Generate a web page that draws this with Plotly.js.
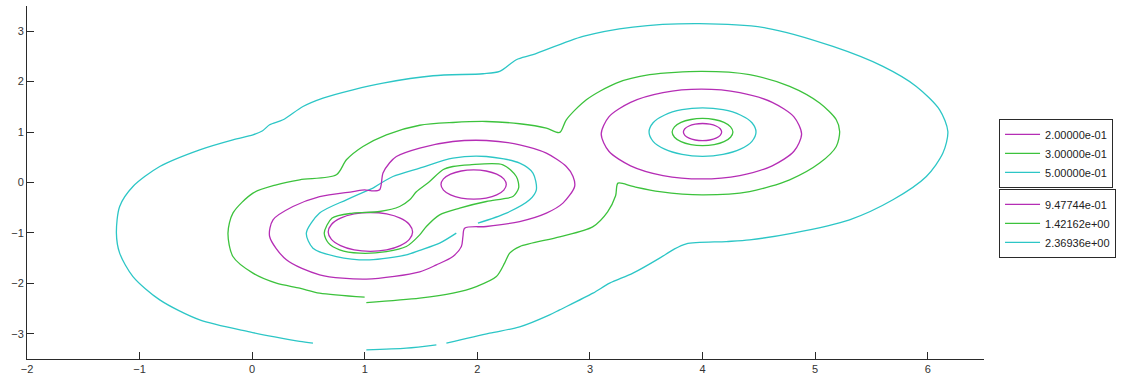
<!DOCTYPE html>
<html>
<head>
<meta charset="utf-8">
<script src="https://cdn.plot.ly/plotly-3.0.1.min.js"></script>
<style>
  html, body { margin: 0; padding: 0; background: #ffffff; }
  #chart { width: 1125px; height: 383px; }
</style>
</head>
<body>
<div id="chart"></div>
<script>
// Contour level labels (legend text)
const levelLabels = ['2.00000e-01', '3.00000e-01', '5.00000e-01', '9.47744e-01', '1.42162e+00', '2.36936e+00'];
const levelColors = ['#b52db5', '#3cc23c', '#2cc6c6', '#b52db5', '#3cc23c', '#2cc6c6'];
const xTicks = [-2, -1, 0, 1, 2, 3, 4, 5, 6];
const yTicks = [-3, -2, -1, 0, 1, 2, 3];

// ---- level 0.2 ----
const lvA02X = [1.425, 1.396, 1.315, 1.194, 1.05, 0.906, 0.785, 0.704, 0.675, 0.704, 0.785, 0.906, 1.05, 1.194, 1.315, 1.396, 1.425];
const lvA02Y = [-0.98, -0.833, -0.708, -0.624, -0.595, -0.624, -0.708, -0.833, -0.98, -1.127, -1.252, -1.336, -1.365, -1.336, -1.252, -1.127, -0.98];
const lvB02X = [2.257, 2.235, 2.172, 2.078, 1.967, 1.856, 1.762, 1.699, 1.677, 1.699, 1.762, 1.856, 1.967, 2.078, 2.172, 2.235, 2.257];
const lvB02Y = [-0.04, 0.071, 0.165, 0.228, 0.25, 0.228, 0.165, 0.071, -0.04, -0.151, -0.245, -0.308, -0.33, -0.308, -0.245, -0.151, -0.04];
const lvC02X = [4.17, 4.157, 4.12, 4.065, 4.0, 3.935, 3.88, 3.843, 3.83, 3.843, 3.88, 3.935, 4.0, 4.065, 4.12, 4.157, 4.17];
const lvC02Y = [1.0, 1.065, 1.12, 1.157, 1.17, 1.157, 1.12, 1.065, 1.0, 0.935, 0.88, 0.843, 0.83, 0.843, 0.88, 0.935, 1.0];

// ---- level 0.3 ----
const lvAB03X = [0.64, 0.71, 0.895, 1.132, 1.31, 1.399, 1.458, 1.576, 1.694, 1.783, 1.932, 2.227, 2.346, 2.367, 2.316, 2.227, 2.08, 1.843, 1.665, 1.547, 1.488, 1.369, 1.192, 0.955, 0.777, 0.678, 0.64];
const lvAB03Y = [-1.004, -0.706, -0.607, -0.575, -0.476, -0.343, -0.185, 0.02, 0.252, 0.317, 0.351, 0.351, 0.119, -0.105, -0.278, -0.323, -0.377, -0.508, -0.641, -0.873, -1.038, -1.27, -1.369, -1.401, -1.335, -1.202, -1.004];
const lvC03X = [4.27, 4.249, 4.191, 4.103, 4.0, 3.897, 3.809, 3.751, 3.73, 3.751, 3.809, 3.897, 4.0, 4.103, 4.191, 4.249, 4.27];
const lvC03Y = [1.0, 1.103, 1.191, 1.249, 1.27, 1.249, 1.191, 1.103, 1.0, 0.897, 0.809, 0.751, 0.73, 0.751, 0.809, 0.897, 1.0];

// ---- level 0.5 ----
const lvAB05X = [1.073, 0.837, 0.599, 0.481, 0.54, 0.748, 1.043, 1.369, 1.488, 1.665, 1.813, null, 2.005, 2.258, 2.464, 2.524, 2.494, 2.376, 2.08, 1.783, 1.488, 1.25, 1.073];
const lvAB05Y = [-0.111, -0.343, -0.607, -1.004, -1.302, -1.468, -1.534, -1.435, -1.345, -1.202, -1.004, null, -0.806, -0.607, -0.343, -0.145, 0.187, 0.385, 0.516, 0.484, 0.286, 0.119, -0.111];
const lvC05X = [4.475, 4.439, 4.336, 4.182, 4.0, 3.818, 3.664, 3.561, 3.525, 3.561, 3.664, 3.818, 4.0, 4.182, 4.336, 4.439, 4.475];
const lvC05Y = [1.0, 1.184, 1.339, 1.443, 1.48, 1.443, 1.339, 1.184, 1.0, 0.816, 0.661, 0.557, 0.52, 0.557, 0.661, 0.816, 1.0];

// ---- level 0.947744 ----
const lvAB095X = [0.999, 1.061, 1.132, 1.162, 1.221, 1.281, 1.488, 1.783, 2.08, 2.376, 2.613, 2.79, 2.85, 2.864, 2.76, 2.613, 2.376, 2.08, 1.887, 1.872, 1.858, 1.783, 1.636, 1.488, 1.014, 0.599, 0.304, 0.155, 0.185, 0.362, 0.599, 0.895, 0.999];
const lvAB095Y = [-0.145, -0.165, -0.145, 0.187, 0.391, 0.516, 0.683, 0.813, 0.833, 0.748, 0.583, 0.317, 0.12, -0.079, -0.409, -0.607, -0.774, -0.873, -0.905, -1.071, -1.27, -1.468, -1.633, -1.772, -1.917, -1.831, -1.534, -1.071, -0.74, -0.476, -0.278, -0.179, -0.145];
const lvC095X = [4.88, 4.812, 4.619, 4.331, 3.99, 3.649, 3.361, 3.168, 3.1, 3.168, 3.361, 3.649, 3.99, 4.331, 4.619, 4.812, 4.88];
const lvC095Y = [0.96, 1.301, 1.589, 1.782, 1.85, 1.782, 1.589, 1.301, 0.96, 0.619, 0.331, 0.138, 0.07, 0.138, 0.331, 0.619, 0.96];

// ---- level 1.42162 ----
const lv142X = [1.014, 1.488, 1.783, 1.991, 2.169, 2.242, 2.287, 2.376, 2.731, 3.024, 3.157, 3.228, 3.249, 3.382, 3.619, 3.995, 4.418, 4.774, 5.04, 5.188, 5.218, 5.188, 5.04, 4.774, 4.418, 3.995, 3.53, 3.234, 2.968, 2.79, 2.731, 2.613, 2.376, 2.08, 1.783, 1.488, 1.192, 0.984, 0.837, 0.748, 0.422, 0.215, 0.007, -0.171, -0.215, -0.171, 0.007, 0.215, 0.422, 0.599, 0.999];
const lv142Y = [-2.381, -2.294, -2.194, -2.063, -1.865, -1.599, -1.401, -1.27, -1.077, -0.879, -0.581, -0.264, -0.012, -0.079, -0.179, -0.244, -0.179, 0.054, 0.385, 0.714, 1.012, 1.244, 1.575, 1.905, 2.137, 2.202, 2.137, 1.972, 1.641, 1.244, 0.992, 1.079, 1.165, 1.21, 1.19, 1.135, 0.946, 0.714, 0.45, 0.153, 0.054, -0.046, -0.21, -0.607, -1.004, -1.468, -1.798, -1.996, -2.095, -2.194, -2.274];

// ---- level 2.36936 ----
const lv237X = [1.014, 1.369, 1.636, null, 1.725, 2.109, 2.376, 2.642, 2.731, 3.027, 3.175, 3.382, 3.619, 3.737, 3.856, 4.211, 4.418, 4.803, 5.306, 5.691, 5.988, 6.135, 6.179, 6.106, 5.899, 5.602, 5.158, 4.567, 3.974, 3.382, 2.938, 2.494, 2.346, 2.198, 2.05, 1.606, 1.162, 0.895, 0.629, 0.451, 0.274, 0.155, 0.093, 0.007, -0.171, -0.466, -0.821, -1.059, -1.177, -1.206, -1.177, -1.059, -0.821, -0.466, -0.022, 0.2, 0.422, 0.54];
const lv237Y = [-3.319, -3.286, -3.22, null, -3.187, -2.988, -2.863, -2.625, -2.526, -2.194, -1.996, -1.798, -1.5, -1.335, -1.216, -1.171, -1.137, -1.004, -0.74, -0.343, 0.119, 0.583, 1.012, 1.442, 1.905, 2.302, 2.698, 3.063, 3.149, 3.083, 2.897, 2.534, 2.435, 2.202, 2.157, 2.117, 1.972, 1.839, 1.675, 1.508, 1.244, 1.145, 1.026, 0.946, 0.847, 0.649, 0.317, -0.079, -0.476, -1.004, -1.401, -1.865, -2.327, -2.724, -2.962, -3.062, -3.151, -3.187];

function join(parts) {
  const out = [];
  parts.forEach((p, i) => { if (i > 0) out.push(null); p.forEach(v => out.push(v)); });
  return out;
}

const levelXs = [
  join([lvA02X, lvB02X, lvC02X]),
  join([lvAB03X, lvC03X]),
  join([lvAB05X, lvC05X]),
  join([lvAB095X, lvC095X]),
  lv142X,
  lv237X
];
const levelYs = [
  join([lvA02Y, lvB02Y, lvC02Y]),
  join([lvAB03Y, lvC03Y]),
  join([lvAB05Y, lvC05Y]),
  join([lvAB095Y, lvC095Y]),
  lv142Y,
  lv237Y
];

const traces = levelLabels.map((name, i) => ({
  type: 'scatter',
  mode: 'lines',
  x: levelXs[i],
  y: levelYs[i],
  name: name,
  legend: i < 3 ? 'legend' : 'legend2',
  line: { color: levelColors[i], width: 1.3, shape: 'spline', smoothing: 0.8 },
  connectgaps: false,
  hoverinfo: 'skip'
}));

const axisCommon = {
  showgrid: false,
  zeroline: false,
  showline: true,
  linecolor: '#2a2a2a',
  linewidth: 1,
  ticks: 'inside',
  ticklen: 7,
  tickcolor: '#2a2a2a',
  tickwidth: 1,
  tickfont: { family: 'Liberation Sans, Arial, sans-serif', size: 11, color: '#333333' },
  fixedrange: true
};

const legendCommon = {
  xref: 'paper', yref: 'paper',
  x: 1.0157, xanchor: 'left', yanchor: 'top',
  bgcolor: '#ffffff',
  bordercolor: '#2a2a2a',
  borderwidth: 1,
  itemwidth: 35,
  font: { family: 'Liberation Sans, Arial, sans-serif', size: 11, color: '#222222' },
  tracegroupgap: 0
};

const layout = {
  width: 1125,
  height: 383,
  margin: { l: 27, r: 141, t: 6, b: 24 },
  paper_bgcolor: '#ffffff',
  plot_bgcolor: '#ffffff',
  showlegend: true,
  xaxis: Object.assign({}, axisCommon, { range: [-2, 6.5], tickvals: xTicks }),
  yaxis: Object.assign({}, axisCommon, { range: [-3.5, 3.5], tickvals: yTicks }),
  legend: Object.assign({}, legendCommon, { y: 0.68 }),
  legend2: Object.assign({}, legendCommon, { y: 0.482 })
};

Plotly.newPlot('chart', traces, layout, { staticPlot: true, displayModeBar: false });
</script>
</body>
</html>
